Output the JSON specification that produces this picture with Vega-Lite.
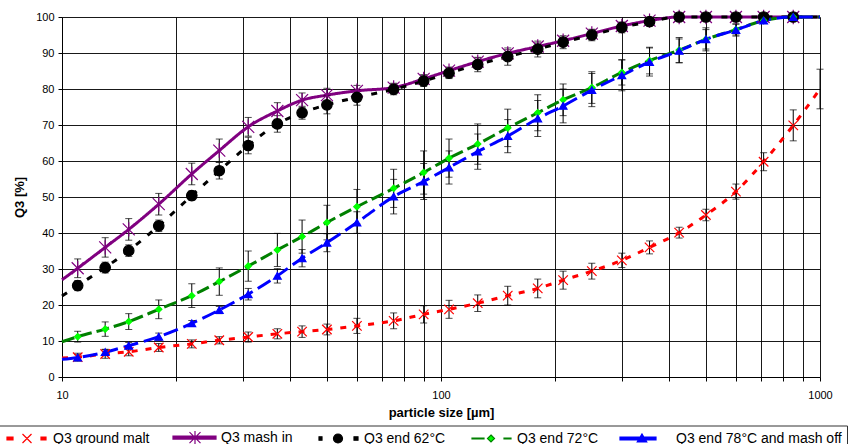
{
  "$schema": "https://vega.github.io/schema/vega-lite/v6.json",
  "width": 758,
  "height": 360,
  "autosize": {"type": "none"},
  "padding": {"left": 62, "top": 17, "right": 35, "bottom": 67},
  "background": "white",
  "config": {
    "view": {"stroke": null},
    "axis": {
      "labelFont": "Liberation Sans",
      "titleFont": "Liberation Sans",
      "labelFontSize": 11,
      "labelColor": "#000",
      "titleColor": "#000",
      "titleFontSize": 13,
      "titleFontWeight": "bold",
      "domainColor": "#000",
      "domainWidth": 1,
      "tickColor": "#000",
      "tickSize": 4,
      "gridColor": "#000",
      "gridWidth": 1,
      "gridOpacity": 0.9
    },
    "legend": {
      "orient": "none",
      "legendX": -67,
      "legendY": 408.5,
      "direction": "horizontal",
      "columns": 5,
      "symbolSize": 100,
      "symbolStrokeWidth": 1.2,
      "symbolOffset": 20,
      "labelFont": "Liberation Sans",
      "labelFontSize": 14,
      "labelColor": "#000",
      "labelOffset": 19,
      "labelLimit": 400,
      "columnPadding": 18,
      "padding": 5,
      "strokeColor": "#333",
      "fillColor": "#fff"
    }
  },
  "data": {
    "values": [
      {"series": "Q3 ground malt", "size": 10, "q3": 5.3},
      {"series": "Q3 ground malt", "size": 11, "q3": 5.5, "sd": 1.1},
      {"series": "Q3 ground malt", "size": 13, "q3": 6.4, "sd": 1.2},
      {"series": "Q3 ground malt", "size": 15, "q3": 7.0, "sd": 1.1},
      {"series": "Q3 ground malt", "size": 18, "q3": 8.2, "sd": 1.1},
      {"series": "Q3 ground malt", "size": 22, "q3": 9.2, "sd": 1.1},
      {"series": "Q3 ground malt", "size": 26, "q3": 10.2, "sd": 1.0},
      {"series": "Q3 ground malt", "size": 31, "q3": 11.1, "sd": 1.4},
      {"series": "Q3 ground malt", "size": 37, "q3": 12.0, "sd": 1.4},
      {"series": "Q3 ground malt", "size": 43, "q3": 12.6, "sd": 1.6},
      {"series": "Q3 ground malt", "size": 50, "q3": 13.2, "sd": 1.5},
      {"series": "Q3 ground malt", "size": 60, "q3": 14.2, "sd": 2.1},
      {"series": "Q3 ground malt", "size": 75, "q3": 15.6, "sd": 2.2},
      {"series": "Q3 ground malt", "size": 90, "q3": 17.4, "sd": 2.4},
      {"series": "Q3 ground malt", "size": 105, "q3": 18.8, "sd": 2.5},
      {"series": "Q3 ground malt", "size": 125, "q3": 20.5, "sd": 2.3},
      {"series": "Q3 ground malt", "size": 150, "q3": 22.6, "sd": 2.6},
      {"series": "Q3 ground malt", "size": 180, "q3": 24.6, "sd": 2.6},
      {"series": "Q3 ground malt", "size": 210, "q3": 26.9, "sd": 2.5},
      {"series": "Q3 ground malt", "size": 250, "q3": 29.4, "sd": 2.2},
      {"series": "Q3 ground malt", "size": 300, "q3": 32.4, "sd": 2.0},
      {"series": "Q3 ground malt", "size": 355, "q3": 36.0, "sd": 1.8},
      {"series": "Q3 ground malt", "size": 425, "q3": 40.1, "sd": 1.5},
      {"series": "Q3 ground malt", "size": 500, "q3": 45.0, "sd": 1.6},
      {"series": "Q3 ground malt", "size": 600, "q3": 51.5, "sd": 2.1},
      {"series": "Q3 ground malt", "size": 710, "q3": 59.8, "sd": 2.5},
      {"series": "Q3 ground malt", "size": 850, "q3": 69.9, "sd": 4.3},
      {"series": "Q3 ground malt", "size": 1000, "q3": 80.0, "sd": 5.5},

      {"series": "Q3 mash in", "size": 10, "q3": 27.0},
      {"series": "Q3 mash in", "size": 11, "q3": 30.2, "sd": 2.6},
      {"series": "Q3 mash in", "size": 13, "q3": 36.0, "sd": 2.7},
      {"series": "Q3 mash in", "size": 15, "q3": 41.0, "sd": 3.0},
      {"series": "Q3 mash in", "size": 18, "q3": 48.0, "sd": 3.0},
      {"series": "Q3 mash in", "size": 22, "q3": 56.4, "sd": 3.0},
      {"series": "Q3 mash in", "size": 26, "q3": 62.9, "sd": 3.2},
      {"series": "Q3 mash in", "size": 31, "q3": 69.5, "sd": 2.6},
      {"series": "Q3 mash in", "size": 37, "q3": 73.9, "sd": 2.3},
      {"series": "Q3 mash in", "size": 43, "q3": 76.9, "sd": 2.0},
      {"series": "Q3 mash in", "size": 50, "q3": 78.3, "sd": 1.9},
      {"series": "Q3 mash in", "size": 60, "q3": 79.5, "sd": 1.5},
      {"series": "Q3 mash in", "size": 75, "q3": 80.4, "sd": 1.2},
      {"series": "Q3 mash in", "size": 90, "q3": 82.8, "sd": 1.2},
      {"series": "Q3 mash in", "size": 105, "q3": 85.1, "sd": 1.0},
      {"series": "Q3 mash in", "size": 125, "q3": 87.6, "sd": 1.0},
      {"series": "Q3 mash in", "size": 150, "q3": 89.9, "sd": 1.0},
      {"series": "Q3 mash in", "size": 180, "q3": 91.8, "sd": 1.0},
      {"series": "Q3 mash in", "size": 210, "q3": 93.4, "sd": 1.0},
      {"series": "Q3 mash in", "size": 250, "q3": 95.4, "sd": 1.0},
      {"series": "Q3 mash in", "size": 300, "q3": 97.5, "sd": 0.8},
      {"series": "Q3 mash in", "size": 355, "q3": 99.0, "sd": 0.5},
      {"series": "Q3 mash in", "size": 425, "q3": 100, "sd": 0.3},
      {"series": "Q3 mash in", "size": 500, "q3": 100, "sd": 0.2},
      {"series": "Q3 mash in", "size": 600, "q3": 100, "sd": 0.2},
      {"series": "Q3 mash in", "size": 710, "q3": 100, "sd": 0.2},
      {"series": "Q3 mash in", "size": 850, "q3": 100, "sd": 0.2},
      {"series": "Q3 mash in", "size": 1000, "q3": 100},

      {"series": "Q3 end 62°C", "size": 10, "q3": 22.5},
      {"series": "Q3 end 62°C", "size": 11, "q3": 25.4, "sd": 1.4},
      {"series": "Q3 end 62°C", "size": 13, "q3": 30.4, "sd": 1.5},
      {"series": "Q3 end 62°C", "size": 15, "q3": 35.1, "sd": 1.6},
      {"series": "Q3 end 62°C", "size": 18, "q3": 42.0, "sd": 1.6},
      {"series": "Q3 end 62°C", "size": 22, "q3": 50.4, "sd": 1.3},
      {"series": "Q3 end 62°C", "size": 26, "q3": 57.3, "sd": 2.3},
      {"series": "Q3 end 62°C", "size": 31, "q3": 64.3, "sd": 2.3},
      {"series": "Q3 end 62°C", "size": 37, "q3": 70.3, "sd": 2.3},
      {"series": "Q3 end 62°C", "size": 43, "q3": 73.4, "sd": 1.8},
      {"series": "Q3 end 62°C", "size": 50, "q3": 75.6, "sd": 2.5},
      {"series": "Q3 end 62°C", "size": 60, "q3": 77.7, "sd": 2.2},
      {"series": "Q3 end 62°C", "size": 75, "q3": 79.9, "sd": 1.5},
      {"series": "Q3 end 62°C", "size": 90, "q3": 82.2, "sd": 1.5},
      {"series": "Q3 end 62°C", "size": 105, "q3": 84.4, "sd": 1.5},
      {"series": "Q3 end 62°C", "size": 125, "q3": 86.8, "sd": 2.0},
      {"series": "Q3 end 62°C", "size": 150, "q3": 89.0, "sd": 2.4},
      {"series": "Q3 end 62°C", "size": 180, "q3": 91.1, "sd": 2.2},
      {"series": "Q3 end 62°C", "size": 210, "q3": 93.0, "sd": 1.8},
      {"series": "Q3 end 62°C", "size": 250, "q3": 95.0, "sd": 1.6},
      {"series": "Q3 end 62°C", "size": 300, "q3": 97.1, "sd": 1.5},
      {"series": "Q3 end 62°C", "size": 355, "q3": 98.7, "sd": 1.2},
      {"series": "Q3 end 62°C", "size": 425, "q3": 100, "sd": 0.3},
      {"series": "Q3 end 62°C", "size": 500, "q3": 100, "sd": 0.2},
      {"series": "Q3 end 62°C", "size": 600, "q3": 100, "sd": 0.2},
      {"series": "Q3 end 62°C", "size": 710, "q3": 100, "sd": 0.2},
      {"series": "Q3 end 62°C", "size": 850, "q3": 100, "sd": 0.2},
      {"series": "Q3 end 62°C", "size": 1000, "q3": 100},

      {"series": "Q3 end 72°C", "size": 10, "q3": 9.8},
      {"series": "Q3 end 72°C", "size": 11, "q3": 11.2, "sd": 1.5},
      {"series": "Q3 end 72°C", "size": 13, "q3": 13.3, "sd": 2.0},
      {"series": "Q3 end 72°C", "size": 15, "q3": 15.4, "sd": 2.2},
      {"series": "Q3 end 72°C", "size": 18, "q3": 18.8, "sd": 2.6},
      {"series": "Q3 end 72°C", "size": 22, "q3": 22.6, "sd": 3.3},
      {"series": "Q3 end 72°C", "size": 26, "q3": 26.5, "sd": 3.8},
      {"series": "Q3 end 72°C", "size": 31, "q3": 30.8, "sd": 4.2},
      {"series": "Q3 end 72°C", "size": 37, "q3": 35.3, "sd": 4.6},
      {"series": "Q3 end 72°C", "size": 43, "q3": 39.0, "sd": 4.6},
      {"series": "Q3 end 72°C", "size": 50, "q3": 42.9, "sd": 4.8},
      {"series": "Q3 end 72°C", "size": 60, "q3": 47.3, "sd": 4.8},
      {"series": "Q3 end 72°C", "size": 75, "q3": 52.4, "sd": 5.3},
      {"series": "Q3 end 72°C", "size": 90, "q3": 56.8, "sd": 6.0},
      {"series": "Q3 end 72°C", "size": 105, "q3": 60.8, "sd": 5.3},
      {"series": "Q3 end 72°C", "size": 125, "q3": 64.7, "sd": 5.6},
      {"series": "Q3 end 72°C", "size": 150, "q3": 69.2, "sd": 5.2},
      {"series": "Q3 end 72°C", "size": 180, "q3": 73.4, "sd": 5.0},
      {"series": "Q3 end 72°C", "size": 210, "q3": 77.0, "sd": 4.4},
      {"series": "Q3 end 72°C", "size": 250, "q3": 80.4, "sd": 4.4},
      {"series": "Q3 end 72°C", "size": 300, "q3": 84.6, "sd": 3.5},
      {"series": "Q3 end 72°C", "size": 355, "q3": 87.9, "sd": 3.7},
      {"series": "Q3 end 72°C", "size": 425, "q3": 90.8, "sd": 3.5},
      {"series": "Q3 end 72°C", "size": 500, "q3": 93.8, "sd": 2.7},
      {"series": "Q3 end 72°C", "size": 600, "q3": 96.5, "sd": 1.5},
      {"series": "Q3 end 72°C", "size": 710, "q3": 99.0, "sd": 0.8},
      {"series": "Q3 end 72°C", "size": 850, "q3": 100, "sd": 0.3},
      {"series": "Q3 end 72°C", "size": 1000, "q3": 100},

      {"series": "Q3 end 78°C and mash off", "size": 10, "q3": 4.9},
      {"series": "Q3 end 78°C and mash off", "size": 11, "q3": 5.4, "sd": 0.8},
      {"series": "Q3 end 78°C and mash off", "size": 13, "q3": 6.9, "sd": 0.8},
      {"series": "Q3 end 78°C and mash off", "size": 15, "q3": 8.7, "sd": 0.9},
      {"series": "Q3 end 78°C and mash off", "size": 18, "q3": 11.2, "sd": 1.0},
      {"series": "Q3 end 78°C and mash off", "size": 22, "q3": 14.9, "sd": 0.8},
      {"series": "Q3 end 78°C and mash off", "size": 26, "q3": 18.6, "sd": 1.0},
      {"series": "Q3 end 78°C and mash off", "size": 31, "q3": 23.0, "sd": 1.6},
      {"series": "Q3 end 78°C and mash off", "size": 37, "q3": 28.1, "sd": 2.0},
      {"series": "Q3 end 78°C and mash off", "size": 43, "q3": 33.0, "sd": 2.4},
      {"series": "Q3 end 78°C and mash off", "size": 50, "q3": 37.3, "sd": 2.5},
      {"series": "Q3 end 78°C and mash off", "size": 60, "q3": 42.9, "sd": 3.0},
      {"series": "Q3 end 78°C and mash off", "size": 75, "q3": 50.1, "sd": 4.8},
      {"series": "Q3 end 78°C and mash off", "size": 90, "q3": 54.3, "sd": 5.0},
      {"series": "Q3 end 78°C and mash off", "size": 105, "q3": 58.2, "sd": 4.6},
      {"series": "Q3 end 78°C and mash off", "size": 125, "q3": 62.6, "sd": 4.9},
      {"series": "Q3 end 78°C and mash off", "size": 150, "q3": 66.9, "sd": 4.6},
      {"series": "Q3 end 78°C and mash off", "size": 180, "q3": 71.8, "sd": 5.0},
      {"series": "Q3 end 78°C and mash off", "size": 210, "q3": 75.3, "sd": 4.7},
      {"series": "Q3 end 78°C and mash off", "size": 250, "q3": 79.7, "sd": 4.6},
      {"series": "Q3 end 78°C and mash off", "size": 300, "q3": 83.8, "sd": 4.3},
      {"series": "Q3 end 78°C and mash off", "size": 355, "q3": 87.5, "sd": 3.9},
      {"series": "Q3 end 78°C and mash off", "size": 425, "q3": 90.6, "sd": 3.3},
      {"series": "Q3 end 78°C and mash off", "size": 500, "q3": 93.8, "sd": 3.2},
      {"series": "Q3 end 78°C and mash off", "size": 600, "q3": 96.4, "sd": 1.7},
      {"series": "Q3 end 78°C and mash off", "size": 710, "q3": 99.0, "sd": 0.8},
      {"series": "Q3 end 78°C and mash off", "size": 850, "q3": 100, "sd": 0.3},
      {"series": "Q3 end 78°C and mash off", "size": 1000, "q3": 100}
    ]
  },
  "encoding": {
    "x": {
      "field": "size",
      "type": "quantitative",
      "scale": {"type": "log", "domain": [10, 1000], "nice": false},
      "axis": {
        "title": "particle size [µm]",
        "values": [10, 20, 30, 40, 50, 60, 70, 80, 90, 100, 200, 300, 400, 500, 600, 700, 800, 900, 1000],
        "labelExpr": "datum.value == 10 || datum.value == 100 || datum.value == 1000 ? format(datum.value, 'd') : ''",
        "labelFlush": false,
        "labelOverlap": false,
        "labelPadding": 8,
        "titlePadding": 6,
        "grid": true
      }
    },
    "y": {
      "field": "q3",
      "type": "quantitative",
      "scale": {"domain": [0, 100], "nice": false},
      "axis": {
        "title": "Q3 [%]",
        "values": [0, 10, 20, 30, 40, 50, 60, 70, 80, 90, 100],
        "labelPadding": 4,
        "titlePadding": 9,
        "grid": true
      }
    }
  },
  "layer": [
    {
      "mark": {"type": "line", "interpolate": "monotone", "strokeWidth": 3},
      "encoding": {
        "color": {
          "field": "series", "type": "nominal",
          "scale": {"domain": ["Q3 ground malt", "Q3 mash in", "Q3 end 62°C", "Q3 end 72°C", "Q3 end 78°C and mash off"],
                    "range": ["#ff0000", "#800080", "#000000", "#008000", "#0000ff"]},
          "legend": null
        },
        "strokeDash": {
          "field": "series", "type": "nominal",
          "scale": {"domain": ["Q3 ground malt", "Q3 mash in", "Q3 end 62°C", "Q3 end 72°C", "Q3 end 78°C and mash off"],
                    "range": [[6, 8], [1, 0], [6, 9], [13, 5], [15, 6]]},
          "legend": null
        }
      }
    },
    {
      "transform": [{"filter": "isValid(datum.sd)"}],
      "mark": {"type": "errorbar", "color": "#000", "thickness": 1, "ticks": {"size": 7, "thickness": 1, "color": "#000"}},
      "encoding": {
        "yError": {"field": "sd"}
      }
    },
    {
      "transform": [{"filter": "datum.size > 10 && datum.size < 1000"}],
      "mark": {"type": "point", "opacity": 1, "strokeWidth": 1.2},
      "encoding": {
        "shape": {
          "field": "series", "type": "nominal",
          "scale": {"domain": ["Q3 ground malt", "Q3 mash in", "Q3 end 62°C", "Q3 end 72°C", "Q3 end 78°C and mash off"],
                    "range": ["M-1,-1L1,1M-1,1L1,-1", "M-1,-1L1,1M-1,1L1,-1M0,-1.2L0,1.2", "circle", "diamond", "triangle-up"]},
          "legend": null
        },
        "fill": {
          "field": "series", "type": "nominal",
          "scale": {"domain": ["Q3 ground malt", "Q3 mash in", "Q3 end 62°C", "Q3 end 72°C", "Q3 end 78°C and mash off"],
                    "range": ["transparent", "transparent", "#000000", "#00ff00", "#0000ff"]},
          "legend": null
        },
        "stroke": {
          "field": "series", "type": "nominal",
          "scale": {"domain": ["Q3 ground malt", "Q3 mash in", "Q3 end 62°C", "Q3 end 72°C", "Q3 end 78°C and mash off"],
                    "range": ["#ff0000", "#800080", "#000000", "#00ff00", "#0000ff"]},
          "legend": null
        },
        "size": {
          "field": "series", "type": "nominal",
          "scale": {"type": "ordinal", "domain": ["Q3 ground malt", "Q3 mash in", "Q3 end 62°C", "Q3 end 72°C", "Q3 end 78°C and mash off"],
                    "range": [90, 144, 110, 40, 60]},
          "legend": null
        }
      }
    },
    {
      "transform": [{"filter": "datum.size < 0"}],
      "mark": {"type": "point", "filled": true, "opacity": 1},
      "encoding": {
        "shape": {
          "field": "series", "type": "nominal",
          "scale": {"domain": ["Q3 ground malt", "Q3 mash in", "Q3 end 62°C", "Q3 end 72°C", "Q3 end 78°C and mash off"],
                    "range": [
                      "M-4,-0.3H-2.8V0.3H-4Z M2.8,-0.3H3.8V0.3H2.8Z M-0.9,-0.9L0.9,0.9M-0.9,0.9L0.9,-0.9",
                      "M-4.4,-0.3H4.2V0.3H-4.4Z M-1.1,-1.1L1.1,1.1M-1.1,1.1L1.1,-1.1M0,-1.3L0,1.3",
                      "M-3.8,-0.35H-3.2V0.35H-3.8Z M3.2,-0.35H4V0.35H3.2Z M0.9,0A0.9,0.9 0 1,1 -0.9,0A0.9,0.9 0 1,1 0.9,0Z",
                      "M-3.8,-0.1H-1.4V0.1H-3.8Z M2.6,-0.1H4V0.1H2.6Z M0,-0.7L0.7,0L0,0.7L-0.7,0Z",
                      "M-6,-0.3H1.2V0.3H-6Z M-1.6,-0.9L-0.65,0.7L-2.55,0.7Z"
                    ]},
          "legend": {"title": null}
        },
        "fill": {
          "field": "series", "type": "nominal",
          "scale": {"domain": ["Q3 ground malt", "Q3 mash in", "Q3 end 62°C", "Q3 end 72°C", "Q3 end 78°C and mash off"],
                    "range": ["#ff0000", "#800080", "#000000", "#00ff00", "#0000ff"]},
          "legend": {"title": null}
        },
        "stroke": {
          "field": "series", "type": "nominal",
          "scale": {"domain": ["Q3 ground malt", "Q3 mash in", "Q3 end 62°C", "Q3 end 72°C", "Q3 end 78°C and mash off"],
                    "range": ["#ff0000", "#800080", "#000000", "#008000", "#0000ff"]},
          "legend": {"title": null}
        }
      }
    }
  ],
  "resolve": {
    "scale": {"shape": "independent", "fill": "independent", "stroke": "independent"},
    "legend": {"shape": "independent", "fill": "independent", "stroke": "independent"}
  }
}
